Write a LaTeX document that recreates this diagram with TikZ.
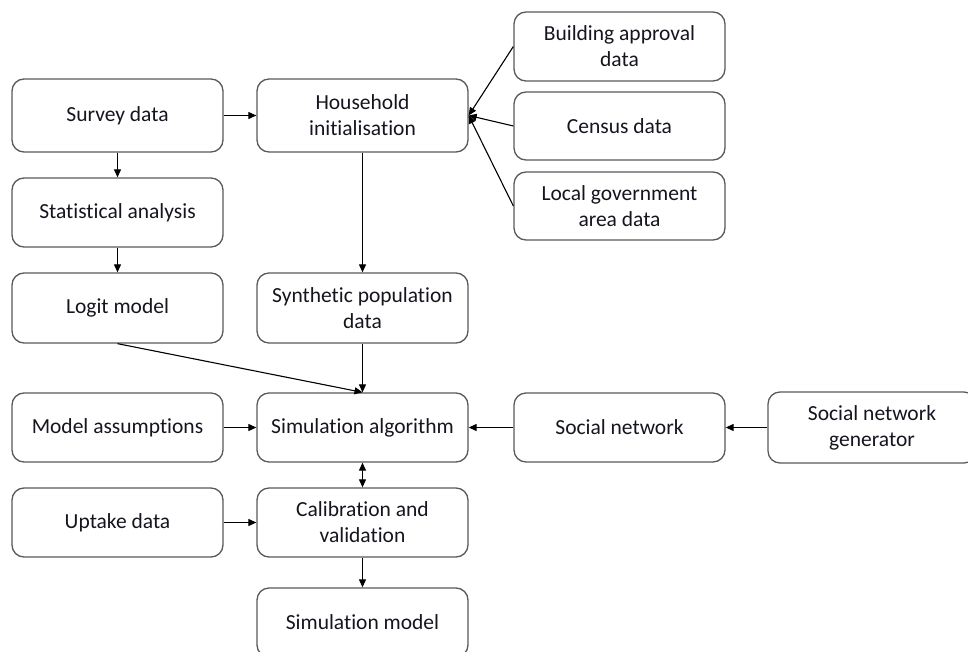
\documentclass[tikz,border=0pt]{standalone}
\usepackage{fontspec}
\setmainfont[Ligatures=NoCommon]{Carlito}
\usetikzlibrary{arrows.meta}
\definecolor{boxline}{HTML}{5A5A5A}
\definecolor{txt}{HTML}{15151F}
\tikzset{
  box/.style={draw=boxline, line width=1.3pt, rounded corners=12pt, fill=white,
    minimum width=211pt, minimum height=69pt, inner sep=0pt, align=center,
    font=\fontsize{21.5}{26}\selectfont, text=txt},
  conn/.style={draw=black, line width=1.1pt, -{Triangle[length=8pt,width=7pt]}},
  dconn/.style={draw=black, line width=1.1pt, {Triangle[length=8pt,width=7pt]}-{Triangle[length=8pt,width=7pt]}}
}
\begin{document}
\begin{tikzpicture}[x=1pt,y=-1pt]
\clip (0,0) rectangle (968,652);
\fill[white] (0,0) rectangle (968,652);
% column 1
\node[box, minimum height=73pt] (survey) at (117.5,115.5) {Survey data};
\node[box] (stat) at (117.5,212.5) {Statistical analysis};
\node[box, minimum height=70pt] (logit) at (117.5,308) {Logit model};
\node[box] (assump) at (117.5,427.5) {Model assumptions};
\node[box] (uptake) at (117.5,522.5) {Uptake data};
% column 2
\node[box, minimum height=73pt] (house) at (362.5,115.5) {Household\\initialisation};
\node[box, minimum height=70pt] (synth) at (362.5,308) {Synthetic population\\data};
\node[box] (sim) at (362.5,427.5) {Simulation algorithm};
\node[box] (calib) at (362.5,522.5) {Calibration and\\validation};
\node[box] (simmodel) at (362.5,622.5) {Simulation model};
% column 3
\node[box] (build) at (619.5,46.5) {Building approval\\data};
\node[box, minimum height=68pt] (census) at (619.5,126) {Census data};
\node[box, minimum height=68pt] (lga) at (619.5,206) {Local government\\area data};
\node[box] (social) at (619.5,427.5) {Social network};
% column 4
\node[box, minimum width=208pt, minimum height=71pt] (gen) at (872,427.5) {Social network\\generator};
% connectors
\draw[conn] (survey) -- (house);
\draw[conn] (survey) -- (stat);
\draw[conn] (stat) -- (logit);
\draw[conn] (house) -- (synth);
\draw[conn] (synth) -- (sim);
\draw[conn] (logit.south) -- (sim.north);
\draw[conn] (build.west) -- (house.east);
\draw[conn] (census.west) -- (house.east);
\draw[conn] (lga.west) -- (house.east);
\draw[conn] (assump) -- (sim);
\draw[conn] (social) -- (sim);
\draw[conn] (gen) -- (social);
\draw[dconn] (sim) -- (calib);
\draw[conn] (uptake) -- (calib);
\draw[conn] (calib) -- (simmodel);
\end{tikzpicture}
\end{document}
